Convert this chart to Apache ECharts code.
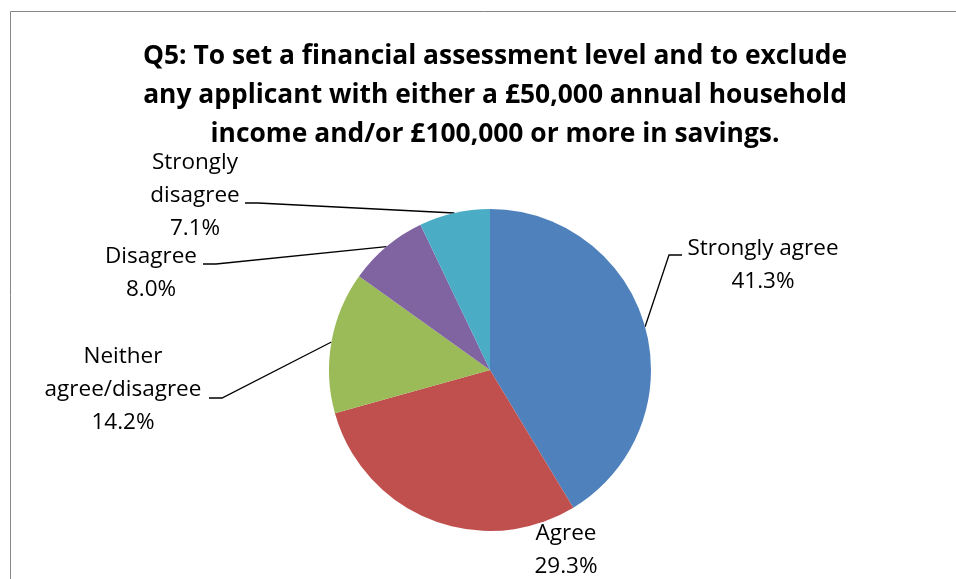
<!DOCTYPE html>
<html>
<head>
<meta charset="utf-8">
<script src="https://cdn.jsdelivr.net/npm/echarts@6/dist/echarts.min.js"></script>
<style>
  html, body { margin: 0; padding: 0; background: #fff; }
  #chart { width: 956px; height: 579px; }
</style>
</head>
<body>
<div id="chart"></div>
<script>
// Survey responses, Q5
const categories = ['Strongly agree', 'Agree', 'Neither agree/disagree', 'Disagree', 'Strongly disagree'];
const percentages = [41.3, 29.3, 14.2, 8.0, 7.1];
const sliceColors = ['#4F81BD', '#C0504D', '#9BBB59', '#8064A2', '#4BACC6'];
const titleLines = [
  'Q5: To set a financial assessment level and to exclude',
  'any applicant with either a £50,000 annual household',
  'income and/or £100,000 or more in savings.'
];

// Where each label block sits (centre) and where its leader line ends.
const labelPlacement = [
  { cx: 763, cy: 265, ex: 682, ey: 255, side: 'right' },
  { cx: 566, cy: 550, ex: null, ey: null, side: null },
  { cx: 123, cy: 390, ex: 209, ey: 398, side: 'left' },
  { cx: 151, cy: 273, ex: 203, ey: 264, side: 'left' },
  { cx: 195, cy: 196, ex: 245, ey: 203, side: 'left' }
];

function wrapName(name) {
  if (name === 'Strongly disagree') return 'Strongly\ndisagree';
  if (name === 'Neither agree/disagree') return 'Neither\nagree/disagree';
  return name;
}

const chart = echarts.init(document.getElementById('chart'), null, { renderer: 'canvas' });

const option = {
  backgroundColor: '#ffffff',
  animation: false,
  title: {
    text: titleLines.join('\n'),
    left: 490,
    top: 32,
    textAlign: 'center',
    textStyle: {
      fontFamily: 'Open Sans',
      fontWeight: 'bold',
      fontSize: 26.4,
      lineHeight: 39,
      color: '#000'
    }
  },
  graphic: [{
    type: 'rect',
    shape: { x: 10.5, y: 11.5, width: 1000, height: 1000 },
    style: { fill: 'none', stroke: '#868686', lineWidth: 1 },
    silent: true
  }],
  series: [{
    type: 'pie',
    center: [490, 370],
    radius: 161,
    startAngle: 90,
    clockwise: true,
    avoidLabelOverlap: false,
    emphasis: { disabled: true },
    itemStyle: { borderWidth: 0 },
    label: {
      show: true,
      position: 'outside',
      fontFamily: 'Open Sans',
      fontSize: 22.5,
      lineHeight: 33,
      color: '#000',
      formatter: function (p) {
        return wrapName(p.name) + '\n' + p.value.toFixed(1) + '%';
      }
    },
    labelLine: {
      show: true,
      lineStyle: { color: '#000', width: 1.3 }
    },
    labelLayout: function (params) {
      const pl = labelPlacement[params.dataIndex];
      const out = { x: pl.cx, y: pl.cy, align: 'center', verticalAlign: 'middle' };
      if (pl.side && params.labelLinePoints) {
        const start = params.labelLinePoints[0];
        const bendX = pl.side === 'right' ? pl.ex - 13 : pl.ex + 13;
        out.labelLinePoints = [start, [bendX, pl.ey], [pl.ex, pl.ey]];
      }
      return out;
    },
    data: categories.map(function (name, i) {
      const item = { name: name, value: percentages[i], itemStyle: { color: sliceColors[i] } };
      if (i === 1) item.labelLine = { show: false };
      return item;
    })
  }]
};

chart.setOption(option);
</script>
</body>
</html>
